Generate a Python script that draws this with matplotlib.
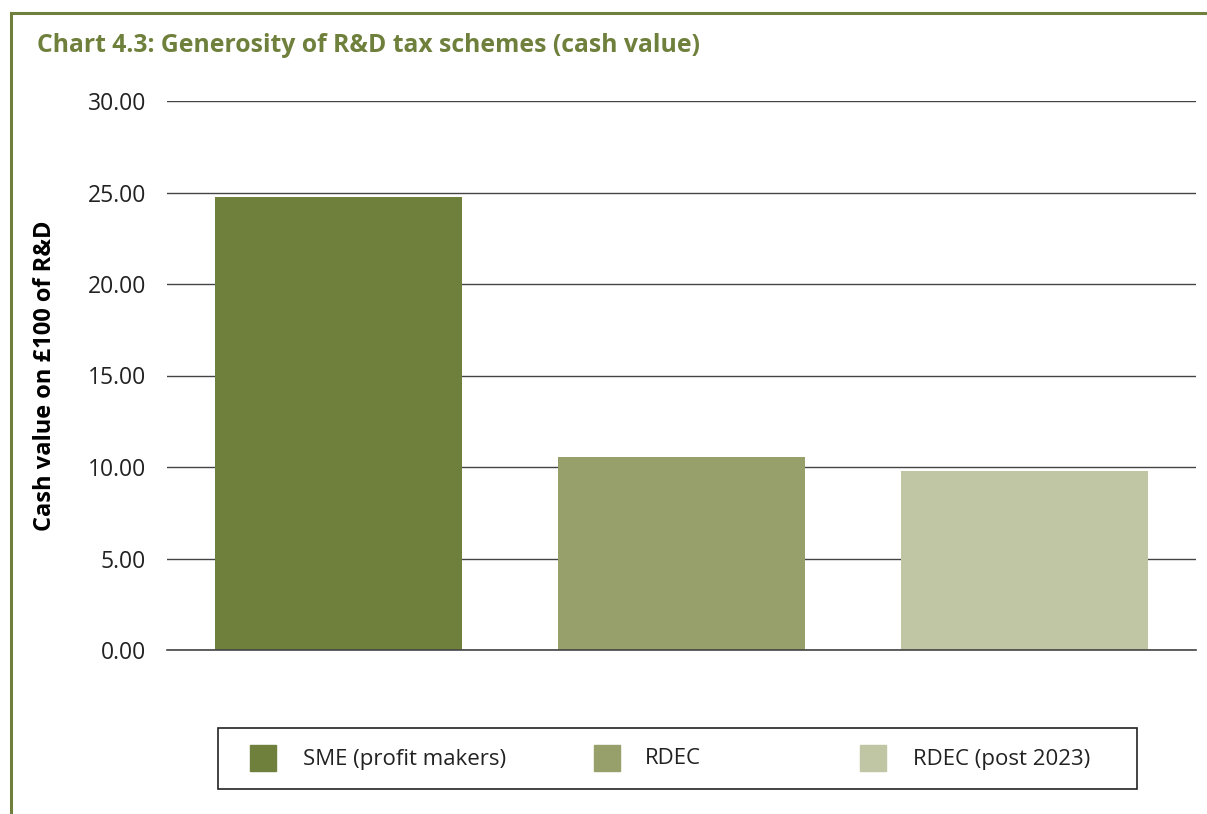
import matplotlib.pyplot as plt
from matplotlib.lines import Line2D
from matplotlib.patches import Rectangle

plt.rcParams['font.family'] = ['Open Sans', 'DejaVu Sans']

# data
schemes = ["SME (profit makers)", "RDEC", "RDEC (post 2023)"]
cash_value = [24.75, 10.55, 9.78]
colours = ["#6f803c", "#97a06a", "#c0c5a3"]
yticks = [0, 5, 10, 15, 20, 25, 30]

W, H = 1207, 814
fig = plt.figure(figsize=(W / 100, H / 100), dpi=100)

# olive frame on top and left
frame_col = "#6f803c"
fig.add_artist(Line2D([11 / W, 1], [1 - 13 / H, 1 - 13 / H], color=frame_col, lw=2.2))
fig.add_artist(Line2D([11 / W, 11 / W], [0, 1 - 13 / H], color=frame_col, lw=2.2))

fig.text(37 / W, 1 - 46 / H, "Chart 4.3: Generosity of R&D tax schemes (cash value)",
         color=frame_col, fontsize=17.8, fontweight="bold", va="center", ha="left")

ax = fig.add_axes([167 / W, 1 - 650 / H, (1196 - 167) / W, 549 / H])
x = range(len(schemes))
ax.bar(x, cash_value, width=0.72, color=colours, zorder=3)
ax.set_xlim(-0.5, 2.5)
ax.set_ylim(0, 30)
ax.set_yticks(yticks)
ax.set_yticklabels([f"{v:.2f}" for v in yticks], fontsize=16.5, color="#222222")
ax.set_xticks([])
ax.tick_params(axis="y", length=0, pad=15)
ax.grid(axis="y", color="#444444", lw=1, zorder=0)
ax.axhline(0, color="#444444", lw=1.2, zorder=4, clip_on=False)
for s in ax.spines.values():
    s.set_visible(False)
ax.set_ylabel("Cash value on £100 of R&D", fontsize=17, fontweight="bold")
ax.yaxis.set_label_coords(-110 / 1029, 0.5)

# legend box
fig.add_artist(Rectangle((218 / W, 1 - 789 / H), (1137 - 218) / W, 61 / H,
                         transform=fig.transFigure, fill=False, ec="#222222", lw=1.2))
patch_x = [250, 594, 860]
text_x = [303, 645, 913]
for px, tx, lab, c in zip(patch_x, text_x, schemes, colours):
    fig.add_artist(Rectangle((px / W, 1 - 771 / H), 26 / W, 26 / H,
                             transform=fig.transFigure, color=c))
    fig.text(tx / W, 1 - 759 / H, lab, fontsize=16, color="#222222", va="center", ha="left")

plt.savefig("out.png", dpi=100)
